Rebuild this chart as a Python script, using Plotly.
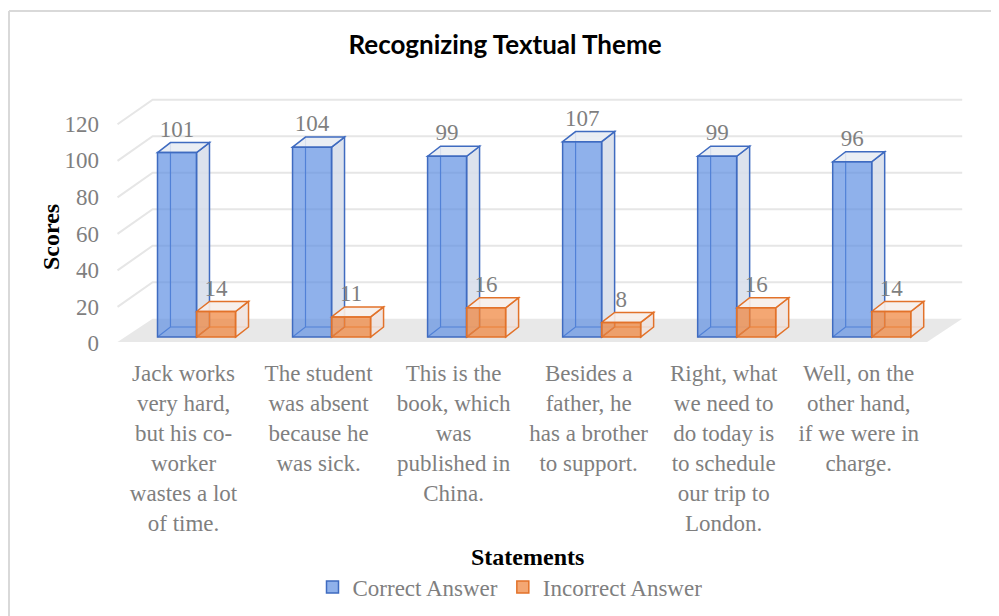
import plotly.graph_objects as go

# ---------------- data ----------------
categories = [
    "Jack works<br>very hard,<br>but his co-<br>worker<br>wastes a lot<br>of time.",
    "The student<br>was absent<br>because he<br>was sick.",
    "This is the<br>book, which<br>was<br>published in<br>China.",
    "Besides a<br>father, he<br>has a brother<br>to support.",
    "Right, what<br>we need to<br>do today is<br>to schedule<br>our trip to<br>London.",
    "Well, on the<br>other hand,<br>if we were in<br>charge.",
]
correct = [101, 104, 99, 107, 99, 96]
incorrect = [14, 11, 16, 8, 16, 14]
y_ticks = [0, 20, 40, 60, 80, 100, 120]
series_names = ["Correct Answer", "Incorrect Answer"]

# ---------------- style ----------------
W, H = 999, 616          # window size
OFF = 8                  # default page body margin
ML, MR, MT, MB = 102, 26, 96, 268   # in window pixels
PW, PH = W - ML - MR, H - MT - MB
XR = [-0.7, 5.75]
YR = [-6, 132]

BW = 0.289           # bar front width (category units)
DX, DY = 0.096, 5.5  # bar depth offset
WDX, WDY = 0.26, 10  # wall depth offset
FLOOR_FRONT = -2.7

BLUE_LINE = "#3F6BC0"
BLUE_FILL = "rgba(90,140,225,0.68)"
BLUE_SIDE = "rgba(214,221,234,0.85)"
BLUE_TOP = "rgba(232,236,243,0.9)"
OR_LINE = "#E2722A"
OR_FILL = "rgba(240,130,55,0.70)"
OR_SIDE = "rgba(238,226,222,0.85)"
OR_TOP = "rgba(246,238,234,0.9)"
GRID = "#E6E6E6"
FLOOR = "#E8E8E8"
TXT = "#7F7F7F"
SERIF = "Liberation Serif, Times New Roman, serif"


def px_to_paper_x(px):
    return (px - ML) / PW


def px_to_paper_y(py):
    return (MT + PH - py) / PH


fig = go.Figure()
n = len(categories)
xs = list(range(n))

shapes = []

# floor
x_front_l, x_front_r = XR[0] + 0.115, n - 1 + 0.41
shapes.append(dict(
    type="path", xref="x", yref="y", layer="below", line=dict(width=0),
    fillcolor=FLOOR,
    path=f"M{x_front_l},{FLOOR_FRONT} L{x_front_r},{FLOOR_FRONT} "
         f"L{x_front_r + WDX},{FLOOR_FRONT + WDY + 2.7} L{x_front_l + WDX},{FLOOR_FRONT + WDY + 2.7} Z"))
# grid lines (side wall + back wall)
for v in y_ticks[1:]:
    shapes.append(dict(
        type="path", xref="x", yref="y", layer="below",
        line=dict(color=GRID, width=2),
        path=f"M{x_front_l},{v - 3.5} L{x_front_l + WDX},{v + WDY} L{x_front_r + WDX},{v + WDY}"))


def box(x0, v, line, side, top):
    x1 = x0 + BW
    out = []
    # hidden back edges
    out.append(dict(type="path", xref="x", yref="y", layer="below",
                    line=dict(color=line, width=1.2),
                    path=f"M{x0},0 L{x0 + DX},{DY} L{x0 + DX},{v + DY} M{x0 + DX},{DY} L{x1 + DX},{DY}"))
    # side face
    out.append(dict(type="path", xref="x", yref="y", layer="below",
                    line=dict(color=line, width=1.5), fillcolor=side,
                    path=f"M{x1},0 L{x1 + DX},{DY} L{x1 + DX},{v + DY} L{x1},{v} Z"))
    # top face
    out.append(dict(type="path", xref="x", yref="y", layer="below",
                    line=dict(color=line, width=1.5), fillcolor=top,
                    path=f"M{x0},{v} L{x0 + DX},{v + DY} L{x1 + DX},{v + DY} L{x1},{v} Z"))
    return out


for i in xs:
    shapes += box(i - BW, correct[i], BLUE_LINE, BLUE_SIDE, BLUE_TOP)
    shapes += box(i, incorrect[i], OR_LINE, OR_SIDE, OR_TOP)

# border of chart area (left & top visible)
shapes.append(dict(type="line", xref="paper", yref="paper",
                   x0=px_to_paper_x(9), x1=px_to_paper_x(9), y0=px_to_paper_y(11), y1=px_to_paper_y(700),
                   line=dict(color="#D9D9D9", width=2)))
shapes.append(dict(type="line", xref="paper", yref="paper",
                   x0=px_to_paper_x(9), x1=px_to_paper_x(1100), y0=px_to_paper_y(11), y1=px_to_paper_y(11),
                   line=dict(color="#D9D9D9", width=2)))

fig.add_trace(go.Bar(
    x=[i - BW / 2 for i in xs], y=correct, width=BW, name=series_names[0],
    marker=dict(color=BLUE_FILL, line=dict(color=BLUE_LINE, width=1.5)),
    hoverinfo="y"))
fig.add_trace(go.Bar(
    x=[i + BW / 2 for i in xs], y=incorrect, width=BW, name=series_names[1],
    marker=dict(color=OR_FILL, line=dict(color=OR_LINE, width=1.5)),
    hoverinfo="y"))

# data labels
fig.add_trace(go.Scatter(
    x=[i - BW / 2 for i in xs] + [i + BW / 2 for i in xs],
    y=[v + DY for v in correct] + [v + DY for v in incorrect],
    text=[str(v) for v in correct] + [str(v) for v in incorrect],
    mode="text", textposition="top center",
    textfont=dict(family=SERIF, size=23, color=TXT),
    showlegend=False, hoverinfo="skip"))

fig.update_layout(
    width=W - OFF, height=H - OFF,
    margin=dict(l=ML - OFF, r=MR, t=MT - OFF, b=MB, autoexpand=False),
    paper_bgcolor="white", plot_bgcolor="rgba(0,0,0,0)",
    barmode="overlay",
    shapes=shapes,
    title=dict(text="<b>Recognizing Textual Theme</b>", x=(505 - OFF) / (W - OFF), xref="container",
               xanchor="center", y=1 - (45 - OFF) / (H - OFF), yanchor="middle",
               font=dict(family="Lato, Carlito, Calibri, sans-serif", size=26, color="black")),
    xaxis=dict(range=XR, tickvals=xs, ticktext=categories, showgrid=False, zeroline=False,
               showline=False, ticks="", ticklabelshift=-13, ticklabelstandoff=9,
               tickfont=dict(family=SERIF, size=23, color=TXT), fixedrange=True),
    yaxis=dict(range=YR, tickvals=y_ticks, showgrid=False, zeroline=False, showline=False,
               ticks="", ticklabelshift=6, ticklabelstandoff=2,
               tickfont=dict(family=SERIF, size=23, color=TXT), fixedrange=True),
    legend=dict(orientation="h", x=px_to_paper_x(510), xanchor="center",
                y=px_to_paper_y(587), yanchor="middle",
                font=dict(family=SERIF, size=23, color=TXT),
                itemwidth=30, tracegroupgap=0, bgcolor="rgba(0,0,0,0)"),
    annotations=[
        dict(text="<b>Scores</b>", xref="paper", yref="paper",
             x=px_to_paper_x(51), y=px_to_paper_y(237), textangle=-90,
             showarrow=False, font=dict(family=SERIF, size=24, color="black"),
             xanchor="center", yanchor="middle"),
        dict(text="<b>Statements</b>", xref="paper", yref="paper",
             x=px_to_paper_x(527), y=px_to_paper_y(557),
             showarrow=False, font=dict(family=SERIF, size=24, color="black"),
             xanchor="center", yanchor="middle"),
    ],
)

fig.write_html("out.html")
